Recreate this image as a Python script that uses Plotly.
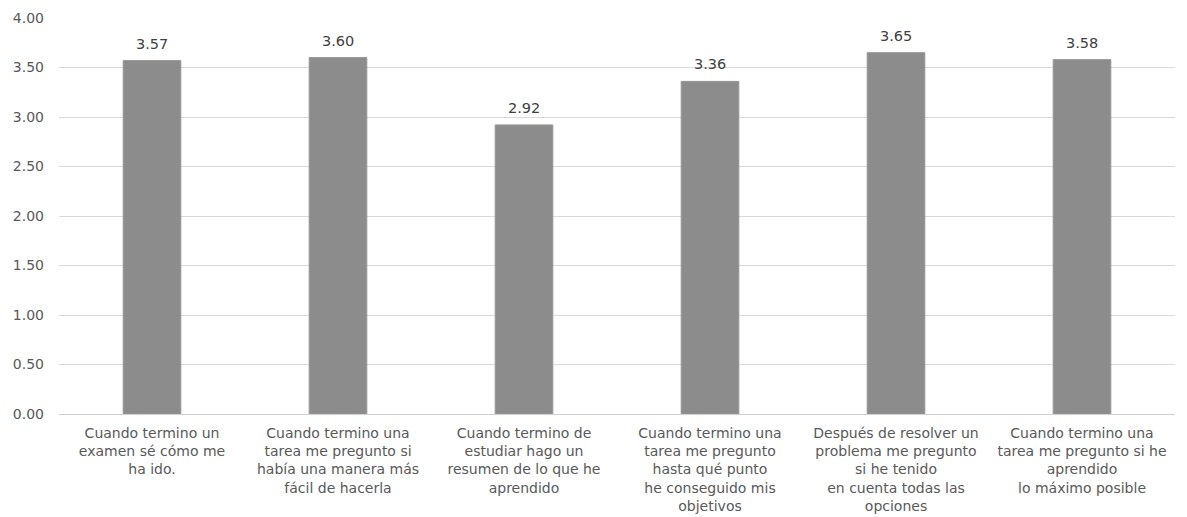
import plotly.graph_objects as go

# Items of the questionnaire (x-axis labels, line-broken as displayed)
categories = [
    "Cuando termino un<br>examen sé cómo me<br>ha ido.",
    "Cuando termino una<br>tarea me pregunto si<br>había una manera más<br>fácil de hacerla",
    "Cuando termino de<br>estudiar hago un<br>resumen de lo que he<br>aprendido",
    "Cuando termino una<br>tarea me pregunto<br>hasta qué punto<br>he conseguido mis<br>objetivos",
    "Después de resolver un<br>problema me pregunto<br>si he tenido<br>en cuenta todas las<br>opciones",
    "Cuando termino una<br>tarea me pregunto si he<br>aprendido<br>lo máximo posible",
]
# Mean score per item
means = [3.57, 3.60, 2.92, 3.36, 3.65, 3.58]
# Y-axis ticks
y_ticks = [0, 0.5, 1.0, 1.5, 2.0, 2.5, 3.0, 3.5, 4.0]

FONT = "DejaVu Sans"
xs = list(range(len(categories)))

fig = go.Figure(
    go.Bar(
        x=xs,
        y=means,
        marker=dict(color="#8c8c8c", line=dict(color="#999999", width=1)),
        width=0.31,
    )
)

# Value labels above each bar
for x, v in zip(xs, means):
    fig.add_annotation(
        x=x, y=v, text=f"{v:.2f}", showarrow=False,
        xanchor="center", yanchor="bottom", yshift=7,
        font=dict(family=FONT, size=14.5, color="#404040"),
    )

fig.update_layout(
    width=1187,
    height=517,
    margin=dict(l=59, r=12, t=18, b=103),
    paper_bgcolor="white",
    plot_bgcolor="white",
    showlegend=False,
    xaxis=dict(
        tickmode="array",
        tickvals=xs,
        ticktext=categories,
        range=[-0.5, len(categories) - 0.5],
        tickangle=0,
        tickfont=dict(family=FONT, size=14, color="#595959"),
        showgrid=False,
        showline=False,
        zeroline=False,
        ticks="",
        ticklabelstandoff=9,
        automargin=False,
    ),
    yaxis=dict(
        range=[0, 4.0],
        tickmode="array",
        tickvals=y_ticks,
        ticktext=[f"{t:.2f}" for t in y_ticks],
        tickfont=dict(family=FONT, size=14, color="#595959"),
        showgrid=True,
        gridcolor="#d9d9d9",
        gridwidth=1,
        zeroline=True,
        zerolinecolor="#d0d0d0",
        zerolinewidth=1,
        ticks="",
        ticklabelstandoff=14,
        automargin=False,
    ),
)

fig.write_html("out.html")
